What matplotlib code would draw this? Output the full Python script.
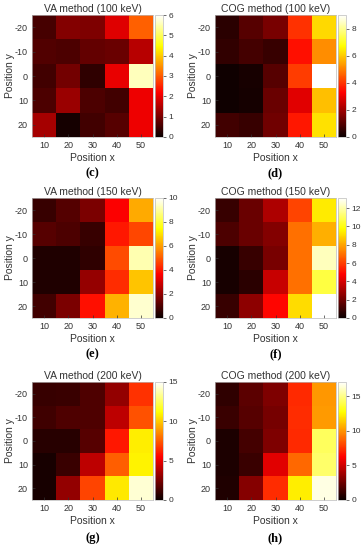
import numpy as np
import matplotlib.pyplot as plt

# ------------------ DATA ------------------
pos_x = [10, 20, 30, 40, 50]
pos_y = [-20, -10, 0, 10, 20]

va_100 = [[0.55, 1.1, 1.05, 1.9, 3.05],
          [0.65, 0.6, 0.8, 0.85, 1.55],
          [0.5, 0.95, 0.35, 2.0, 5.6],
          [0.6, 1.3, 0.6, 0.5, 2.05],
          [1.4, 0.1, 0.5, 0.7, 2.05]]
cog_100 = [[0.45, 1.05, 1.5, 3.95, 6.2],
           [0.55, 0.8, 0.6, 3.5, 5.2],
           [0.1, 0.2, 1.05, 4.1, 9.0],
           [0.1, 0.15, 1.3, 2.9, 5.85],
           [0.75, 0.6, 1.4, 3.6, 6.3]]
va_150 = [[0.7, 1.1, 1.7, 3.6, 6.2],
          [1.15, 1.0, 0.7, 4.0, 4.7],
          [0.35, 0.35, 0.55, 4.8, 9.2],
          [0.35, 0.35, 2.1, 4.3, 6.6],
          [0.85, 1.7, 3.9, 6.3, 9.5]]
cog_150 = [[0.9, 1.85, 3.2, 6.1, 9.4],
           [1.3, 1.85, 2.4, 7.0, 8.2],
           [0.3, 0.9, 2.2, 7.0, 12.2],
           [0.3, 0.65, 3.7, 7.0, 10.6],
           [0.9, 2.6, 4.9, 9.1, 13.1]]
va_200 = [[1.0, 1.1, 1.55, 3.1, 6.6],
          [1.2, 1.55, 1.55, 4.0, 7.3],
          [0.65, 0.65, 1.75, 6.0, 10.8],
          [0.35, 1.1, 4.0, 7.6, 10.9],
          [0.35, 3.1, 7.0, 10.7, 14.3]]
cog_200 = [[1.0, 2.1, 3.0, 7.3, 10.1],
           [1.25, 2.0, 2.8, 7.4, 10.2],
           [0.5, 1.5, 3.0, 7.3, 14.3],
           [0.5, 1.25, 5.5, 8.9, 14.5],
           [0.6, 3.2, 7.4, 12.3, 16.6]]

panels = [
    ("VA method (100 keV)", va_100, 6.0, [0, 1, 2, 3, 4, 5, 6], "(c)"),
    ("COG method (100 keV)", cog_100, 9.0, [0, 2, 4, 6, 8], "(d)"),
    ("VA method (150 keV)", va_150, 10.0, [0, 2, 4, 6, 8, 10], "(e)"),
    ("COG method (150 keV)", cog_150, 13.1, [0, 2, 4, 6, 8, 10, 12], "(f)"),
    ("VA method (200 keV)", va_200, 15.0, [0, 5, 10, 15], "(g)"),
    ("COG method (200 keV)", cog_200, 17.1, [0, 5, 10, 15], "(h)"),
]

# ------------------ LAYOUT (pixels) ------------------
W, H = 363, 550
col_x = [32, 215]
ax_w = 121
cb_off, cb_w = 123, 8
row_y = [(15, 137), (198, 318), (382, 500)]
label_y = [173, 354, 538]

plt.rcParams["font.family"] = ["Liberation Sans", "DejaVu Sans"]
plt.rcParams["axes.unicode_minus"] = False
GRAY = "#333333"

fig = plt.figure(figsize=(W / 100, H / 100), dpi=100)

for i, (title, vals, vmax, cticks, tag) in enumerate(panels):
    r, c = divmod(i, 2)
    top, bot = row_y[r]
    x0 = col_x[c]
    ax = fig.add_axes([x0 / W, 1 - bot / H, ax_w / W, (bot - top) / H])
    im = ax.imshow(np.array(vals), cmap="hot", vmin=0, vmax=vmax,
                   aspect="auto", interpolation="nearest",
                   extent=[5, 55, 25, -25])
    ax.set_xticks(pos_x)
    ax.set_yticks(pos_y)
    ax.tick_params(direction="in", length=2, width=0.5, labelsize=6.5,
                   colors=GRAY, pad=3)
    for s in ax.spines.values():
        s.set_color("#bbbbbb")
        s.set_linewidth(0.5)
    ax.set_title(title, fontsize=7.5, color=GRAY, pad=2)
    ax.set_xlabel("Position x", fontsize=7.5, color=GRAY, labelpad=2)
    ax.set_ylabel("Position y", fontsize=7.5, color=GRAY, labelpad=0)

    cax = fig.add_axes([(x0 + cb_off) / W, 1 - bot / H, cb_w / W, (bot - top) / H])
    cb = fig.colorbar(im, cax=cax, ticks=cticks)
    cb.outline.set_edgecolor("#bbbbbb")
    cb.outline.set_linewidth(0.5)
    cax.tick_params(direction="out", length=2, width=0.5, labelsize=6,
                    colors=GRAY, pad=2)

    fig.text((x0 + ax_w / 2) / W, 1 - label_y[r] / H, tag, ha="center",
             va="center", fontsize=9, family=["Liberation Serif", "DejaVu Serif"],
             fontweight="bold", color="black")

plt.savefig("out.png", dpi=100)
plt.close()
